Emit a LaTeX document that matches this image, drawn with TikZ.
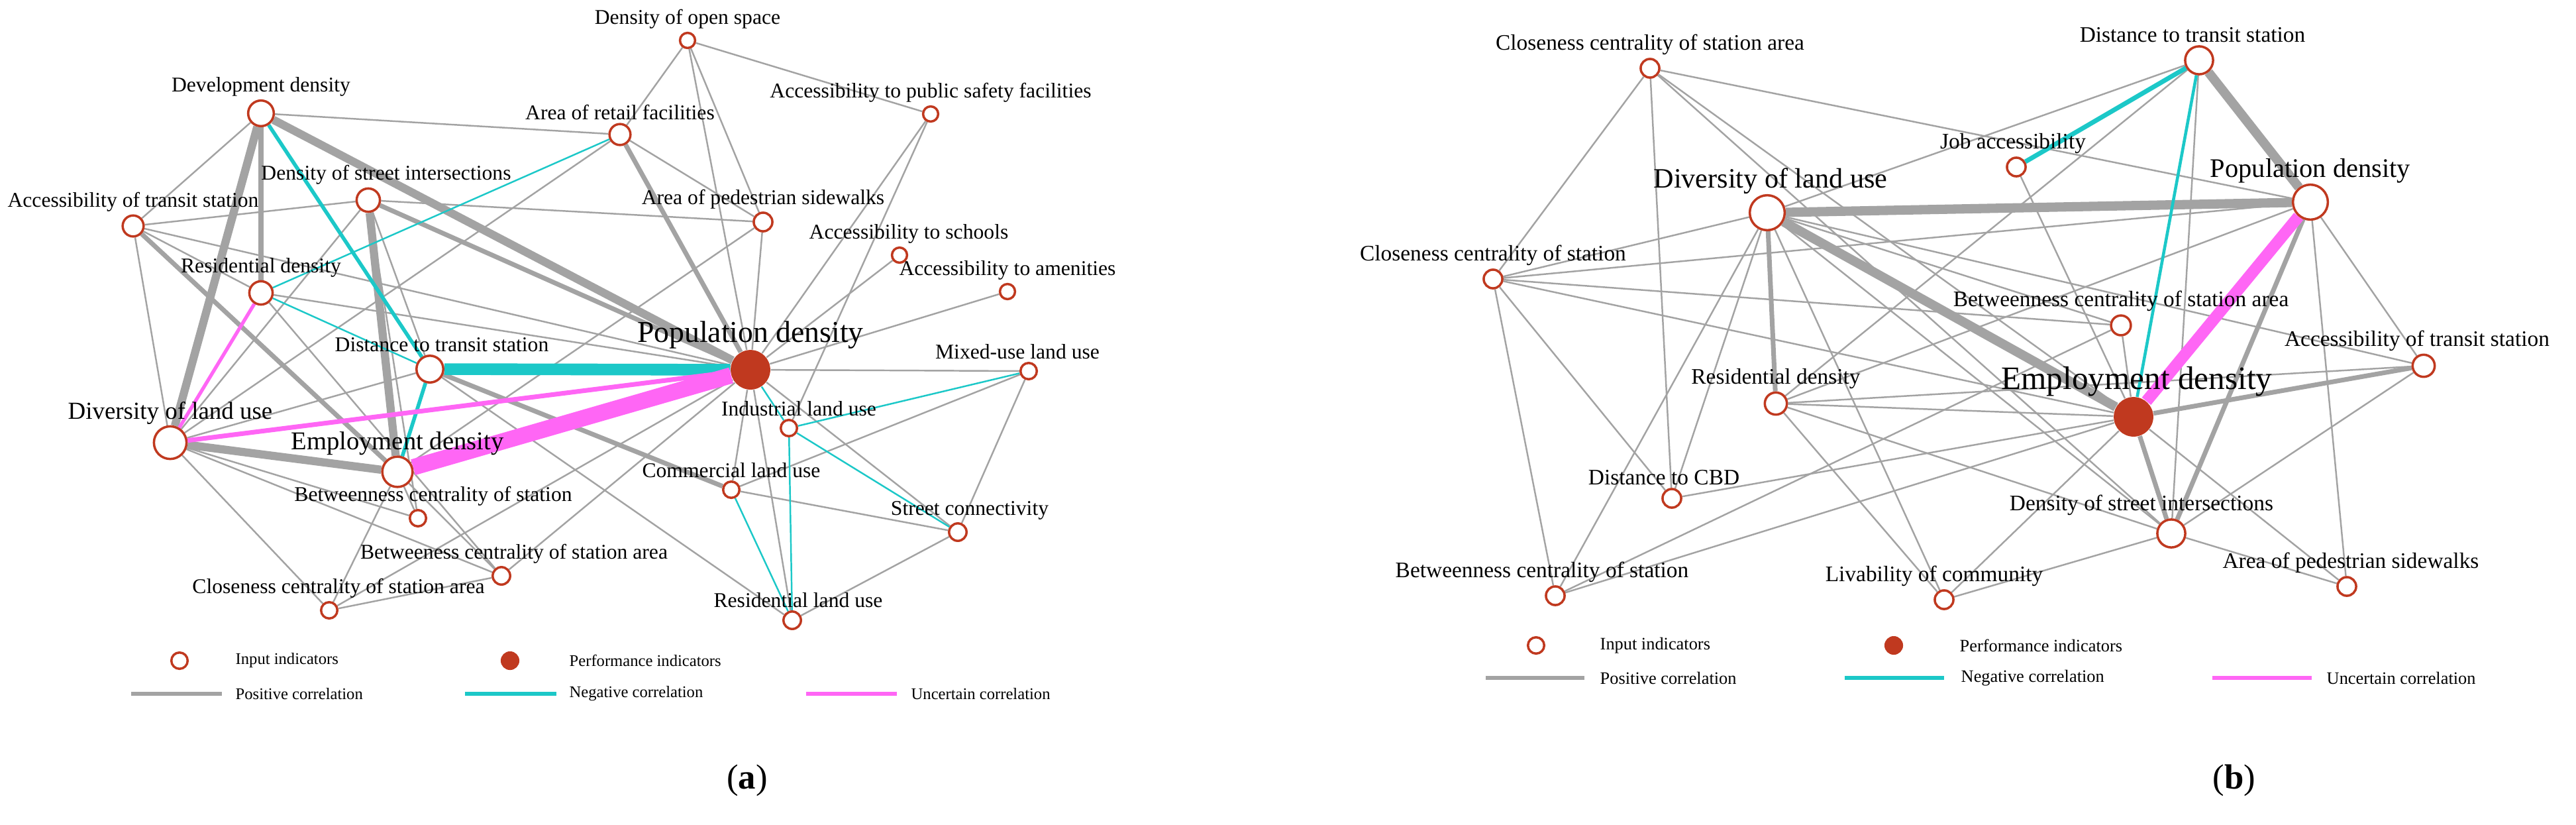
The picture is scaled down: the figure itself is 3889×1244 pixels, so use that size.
\documentclass[tikz,border=0pt]{standalone}
\usepackage{fontspec}
\setmainfont{Liberation Serif}
\usetikzlibrary{positioning}
\pgfdeclarelayer{bg}
\pgfsetlayers{bg,main}
\definecolor{nodered}{HTML}{C0391F}
\definecolor{posgray}{HTML}{A3A3A3}
\definecolor{negcyan}{HTML}{1CC8C8}
\definecolor{unsmag}{HTML}{FF66F5}

\tikzset{
  inp/.style={circle,draw=nodered,fill=white,line width=1pt,inner sep=0pt,minimum size=#1},
  perf/.style={circle,fill=nodered,inner sep=0pt,minimum size=#1},
  lab/.style={font=\fontsize{9}{10}\selectfont,inner sep=0pt,label distance=1pt},
  labb/.style={font=\fontsize{9.5}{10}\selectfont,inner sep=0pt,label distance=1pt},
  big/.style={inner sep=0pt,label distance=0pt},
  pos/.style={draw=posgray,line width=#1}, pos/.default=0.7pt,
  neg/.style={draw=negcyan,line width=#1}, neg/.default=0.7pt,
  unc/.style={draw=unsmag,line width=#1}, unc/.default=1pt,
  leg/.style={font=\fontsize{#1}{8}\selectfont,anchor=west,inner sep=0pt}, leg/.default=7.5,
}

\begin{document}
\begin{tikzpicture}[x=0.01cm, y=-0.01cm]
\useasboundingbox (0,0) rectangle (3889,1244);
\newcommand{\ind}[6]{\node[#1=#2,label={[#6]above:#5}] (#3) at #4 {};}%

% (a)
\ind{inp}{6.5pt}{aOS}{(1038,61)}{Density of open space}{lab}
\ind{inp}{11pt}{aDD}{(394,171)}{Development density}{lab}
\ind{inp}{9pt}{aRF}{(936,203)}{Area of retail facilities}{lab}
\ind{inp}{6.5pt}{aPS}{(1405,172)}{Accessibility to public safety facilities}{lab}
\ind{inp}{10pt}{aSI}{(556,302)}{Density of street intersections}{lab,xshift=0.27cm}
\ind{inp}{9pt}{aAT}{(201,341)}{Accessibility of transit station}{lab}
\ind{inp}{8pt}{aPW}{(1152,335)}{Area of pedestrian sidewalks}{lab}
\ind{inp}{6.5pt}{aSC}{(1358,385)}{Accessibility to schools}{lab,xshift=0.14cm}
\ind{inp}{6.5pt}{aAM}{(1521,440)}{Accessibility to amenities}{lab}
\ind{inp}{10pt}{aRD}{(394,442)}{Residential density}{lab}
\ind{inp}{11.5pt}{aDT}{(649,557)}{Distance to transit station}{lab,xshift=0.18cm}
\ind{perf}{17pt}{aPD}{(1133,558)}{Population density}{big,font=\fontsize{13}{14}\selectfont}
\ind{inp}{7pt}{aMU}{(1553,560)}{Mixed-use land use}{lab,xshift=-0.17cm}
\ind{inp}{14pt}{aDL}{(257,668)}{Diversity of land use}{big,font=\fontsize{10.5}{11}\selectfont}
\ind{inp}{7pt}{aIL}{(1191,646)}{Industrial land use}{lab,xshift=0.15cm}
\ind{inp}{13pt}{aED}{(600,712)}{Employment density}{big,font=\fontsize{11}{12}\selectfont}
\ind{inp}{7pt}{aCL}{(1104,739)}{Commercial land use}{lab}
\ind{inp}{7pt}{aBS}{(631,782)}{Betweenness centrality of station}{lab,xshift=0.23cm}
\ind{inp}{7.5pt}{aST}{(1446,803)}{Street connectivity}{lab,xshift=0.18cm}
\ind{inp}{7.5pt}{aBA}{(757,869)}{Betweeness centrality of station area}{lab,xshift=0.19cm}
\ind{inp}{7pt}{aCA}{(497,921)}{Closeness centrality of station area}{lab,xshift=0.14cm}
\ind{inp}{7.5pt}{aRL}{(1196,936)}{Residential land use}{lab,xshift=0.09cm}

\begin{pgfonlayer}{bg}
\foreach \a/\b in {aOS/aRF,aOS/aPS,aOS/aPD,aOS/aPW,aDD/aRF,aDD/aAT,aRF/aPW,aRF/aDL,
  aPS/aPD,aPS/aIL,aSI/aAT,aSI/aPW,aSI/aDL,aSI/aBS,aSI/aDT,aAT/aPD,aAT/aDL,aAT/aRD,
  aPW/aED,aPW/aPD,aSC/aPD,aAM/aPD,aRD/aPD,aRD/aBA,aDT/aDL,aDT/aRL,aPD/aMU,aPD/aCL,
  aPD/aRL,aPD/aST,aPD/aBA,aPD/aCA,aMU/aST,aMU/aCL,aCL/aST,aST/aRL,aDL/aBS,aDL/aBA,
  aDL/aCA,aED/aBS,aED/aCA,aED/aBA,aBA/aCA}
  \draw[pos] (\a) -- (\b);
\foreach \a/\b in {aDD/aRD,aRF/aPD,aSI/aPD,aAT/aED,aDT/aCL}
  \draw[pos=2pt] (\a) -- (\b);
\foreach \a/\b in {aDD/aPD,aDD/aDL,aSI/aED,aDL/aED}
  \draw[pos=3.5pt] (\a) -- (\b);
\foreach \a/\b in {aRF/aRD,aRD/aDT,aPD/aIL,aMU/aIL,aIL/aST,aIL/aRL,aCL/aRL}
  \draw[neg] (\a) -- (\b);
\draw[neg=1.6pt] (aDD) -- (aDT);
\draw[neg=1.6pt] (aDT) -- (aED);
\draw[neg=5pt] (aDT) -- (aPD);
\draw[unc=1.5pt] (aRD) -- (aDL);
\draw[unc=2pt] (aPD) -- (aDL);
\draw[unc=7pt] (aPD) -- (aED);
\end{pgfonlayer}

% (b)
\ind{inp}{8pt}{bCA}{(2491,103)}{Closeness centrality of station area}{labb}
\ind{inp}{12pt}{bDT}{(3320,91)}{Distance to transit station}{labb,xshift=-0.1cm}
\ind{inp}{8pt}{bJA}{(3044,252)}{Job accessibility}{labb,xshift=-0.05cm}
\ind{inp}{15pt}{bDL}{(2668,321)}{Diversity of land use}{big,font=\fontsize{12}{13}\selectfont,xshift=0.05cm}
\ind{inp}{15pt}{bPD}{(3488,305)}{Population density}{big,font=\fontsize{11.5}{12}\selectfont}
\ind{inp}{8pt}{bCS}{(2254,421)}{Closeness centrality of station}{labb}
\ind{inp}{8.5pt}{bBA}{(3202,491)}{Betweenness centrality of station area}{labb}
\ind{inp}{9.5pt}{bAT}{(3659,552)}{Accessibility of transit station}{labb,xshift=-0.1cm}
\ind{inp}{9.5pt}{bRD}{(2681,609)}{Residential density}{labb}
\ind{perf}{17pt}{bED}{(3221,629)}{Employment density}{big,font=\fontsize{14}{15}\selectfont,xshift=0.05cm}
\ind{inp}{8pt}{bDC}{(2524,752)}{Distance to CBD}{labb,xshift=-0.12cm}
\ind{inp}{12pt}{bSI}{(3278,805)}{Density of street intersections}{labb,xshift=-0.45cm}
\ind{inp}{8pt}{bBS}{(2348,899)}{Betweenness centrality of station}{labb,xshift=-0.2cm}
\ind{inp}{8pt}{bLC}{(2935,905)}{Livability of community}{labb,xshift=-0.15cm}
\ind{inp}{8pt}{bPW}{(3543,885)}{Area of pedestrian sidewalks}{labb,xshift=0.06cm}

\begin{pgfonlayer}{bg}
\foreach \a/\b in {bDT/bDL,bDT/bRD,bDT/bSI,bDL/bCS,bDL/bBA,bDL/bAT,bDL/bSI,bDL/bLC,
  bDL/bDC,bDL/bBS,bPD/bCS,bPD/bAT,bPD/bPW,bPD/bRD,bCA/bCS,bCA/bDC,bCA/bED,bCA/bSI,
  bCA/bPD,bCS/bBA,bCS/bED,bCS/bDC,bCS/bBS,bJA/bED,bBA/bBS,bBA/bED,bAT/bRD,bAT/bSI,
  bRD/bED,bRD/bSI,bRD/bLC,bED/bDC,bED/bBS,bED/bLC,bED/bPW,bSI/bLC,bSI/bPW}
  \draw[pos] (\a) -- (\b);
\foreach \a/\b in {bDL/bRD,bPD/bSI,bAT/bED,bED/bSI}
  \draw[pos=2pt] (\a) -- (\b);
\foreach \a/\b in {bDT/bPD,bDL/bPD,bDL/bED}
  \draw[pos=4pt] (\a) -- (\b);
\draw[neg=2pt] (bDT) -- (bJA);
\draw[neg=1.3pt] (bDT) -- (bED);
\draw[unc=5pt] (bPD) -- (bED);
\end{pgfonlayer}

% legends
\foreach \p/\ci/\ti/\cp/\tp/\y/\fs in {a/271/355/770/859/997/7,b/2319/2415/2859/2958/974/7.5}{
  \node[inp=7pt] (\p Li) at (\ci,\y) {};
  \node[leg=\fs] at (\ti,\y) {Input indicators};
  \node[perf=8pt] (\p Lp) at (\cp,\y) {};
  \node[leg=\fs] at (\tp,\y) {Performance indicators};
}
\foreach \p/\s/\x/\l/\g/\y/\fs/\t in {
  ag/pos/198/137/157/1047/7/Positive correlation,
  ac/neg/702/138/157/1047/7/Negative correlation,
  am/unc/1217/137/158/1047/7/Uncertain correlation,
  bg/pos/2243/149/172/1023/7.5/Positive correlation,
  bc/neg/2785/150/175/1023/7.5/Negative correlation,
  bm/unc/3340/150/172/1023/7.5/Uncertain correlation}{
  \coordinate (\p1) at (\x,\y); \coordinate (\p2) at (\x+\l,\y);
  \draw[\s=1.8pt] (\p1) -- (\p2);
  \node[leg=\fs] at (\x+\g,\y) {\t};
}
\node[font=\fontsize{15}{16}\selectfont] (capa) at (1128,1178) {(\textbf{a})};
\node[font=\fontsize{15}{16}\selectfont] (capb) at (3373,1178) {(\textbf{b})};
\end{tikzpicture}
\end{document}
